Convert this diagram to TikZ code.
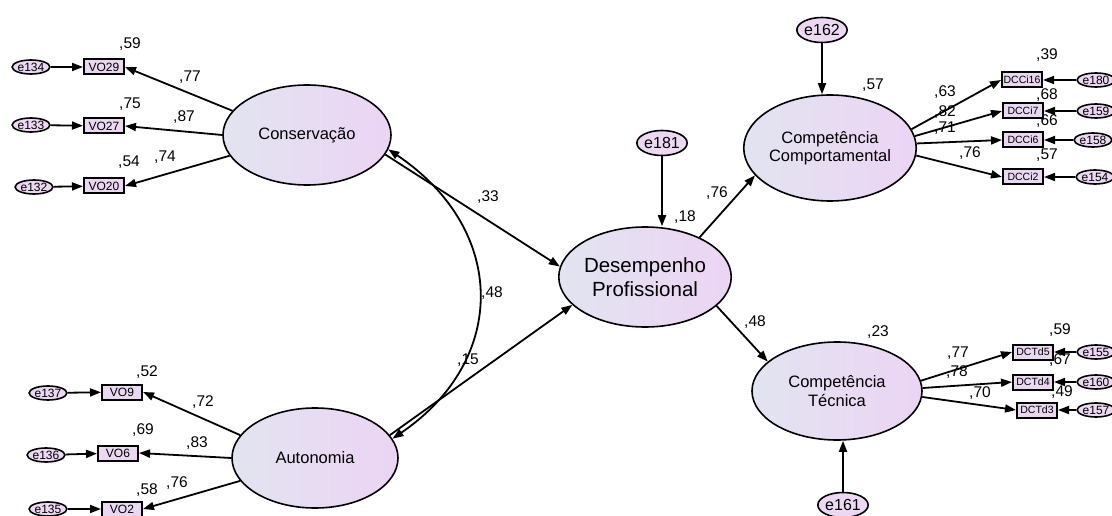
\documentclass[tikz,border=0pt]{standalone}
\usepackage{fontspec}
\setmainfont{Liberation Sans}
\usetikzlibrary{arrows.meta,shapes.geometric}
\definecolor{latL}{RGB}{226,228,240}
\definecolor{latR}{RGB}{236,212,244}
\definecolor{obsF}{RGB}{234,216,240}
\definecolor{errF}{RGB}{236,216,242}
\tikzset{
 lat/.style={ellipse, draw, line width=1.6pt, left color=latL, right color=latR, inner sep=0pt, align=center, font=\fontsize{16.5}{19}\selectfont},
 obs/.style={rectangle, draw, line width=2pt, fill=obsF, minimum width=40pt, minimum height=15pt, inner sep=0pt, font=\fontsize{12}{12}\selectfont},
 obsd/.style={obs, font=\fontsize{10.5}{10.5}\selectfont},
 errs/.style={ellipse, draw, line width=1.6pt, fill=errF, minimum width=37pt, minimum height=14pt, inner sep=0pt, font=\fontsize{12}{12}\selectfont},
 errb/.style={ellipse, draw, line width=1.6pt, fill=errF, minimum width=43pt, minimum height=25pt, inner sep=0pt, font=\fontsize{16}{16}\selectfont},
 arr/.style={-{Triangle[length=11pt,width=8pt]}, line width=1.8pt},
 darr/.style={{Triangle[length=11pt,width=8pt]}-{Triangle[length=11pt,width=8pt]}, line width=1.8pt},
 val/.style={inner sep=0pt, font=\fontsize{15.5}{15.5}\selectfont},
}
\begin{document}
\begin{tikzpicture}[x=1pt,y=-1pt]
\useasboundingbox[fill=white] (0,0) rectangle (1112,516);
% value labels (drawn first, boxes may cover them)
\node[val] (v1) at (130,44) {,59};
\node[val] (v2) at (190,77) {,77};
\node[val] (v3) at (130,104) {,75};
\node[val] (v4) at (184,117) {,87};
\node[val] (v5) at (129,162) {,54};
\node[val] (v6) at (165,157) {,74};
\node[val] (v7) at (147,372) {,52};
\node[val] (v8) at (203,402) {,72};
\node[val] (v9) at (143,430) {,69};
\node[val] (v10) at (197,443) {,83};
\node[val] (v11) at (147,490) {,58};
\node[val] (v12) at (177,483) {,76};
\node[val] (v13) at (488,197) {,33};
\node[val] (v14) at (492,293) {,48};
\node[val] (v15) at (468,360) {,15};
\node[val] (v16) at (685,217) {,18};
\node[val] (v17) at (717,193) {,76};
\node[val] (v18) at (873,85) {,57};
\node[val] (v19) at (755,322) {,48};
\node[val] (v20) at (878,332) {,23};
\node[val] (v21) at (1047,55) {,39};
\node[val] (v22) at (1047,95) {,68};
\node[val] (v23) at (1047,121) {,66};
\node[val] (v24) at (1047,155) {,57};
\node[val] (v25) at (945,92) {,63};
\node[val] (v26) at (945,112) {,82};
\node[val] (v27) at (945,128) {,71};
\node[val] (v28) at (970,153) {,76};
\node[val] (v29) at (1060,330) {,59};
\node[val] (v30) at (1060,360) {,67};
\node[val] (v31) at (1062,392) {,49};
\node[val] (v32) at (958,353) {,77};
\node[val] (v33) at (957,372) {,78};
\node[val] (v34) at (980,393) {,70};
% latent variables
\node[lat, minimum width=168pt, minimum height=100pt] (cons) at (307,135) {Conserva\c{c}\~ao};
\node[lat, minimum width=166pt, minimum height=100pt] (aut) at (315,458) {Autonomia};
\node[lat, minimum width=166pt, minimum height=100pt, font=\fontsize{20.5}{24}\selectfont] (des) at (645,277) {Desempenho\\Profissional};
\node[lat, minimum width=164pt, minimum height=106pt, font=\fontsize{16.5}{18.5}\selectfont] (cc) at (830,148) {Compet\^encia\\Comportamental};
\node[lat, minimum width=170pt, minimum height=98pt, font=\fontsize{16.5}{18.5}\selectfont] (ct) at (837,391) {Compet\^encia\\T\'ecnica};
% observed variables
\node[obs] (vo29) at (104,67) {VO29};
\node[obs] (vo27) at (104,126) {VO27};
\node[obs] (vo20) at (104,186) {VO20};
\node[obs] (vo9) at (122,392) {VO9};
\node[obs] (vo6) at (118,453) {VO6};
\node[obs] (vo2) at (122,509) {VO2};
\node[obsd] (dcci16) at (1022,80) {DCCi16};
\node[obsd] (dcci7) at (1023,111) {DCCi7};
\node[obsd] (dcci6) at (1023,140) {DCCi6};
\node[obsd] (dcci2) at (1023,177) {DCCi2};
\node[obsd] (dctd5) at (1033,352) {DCTd5};
\node[obsd] (dctd4) at (1033,382) {DCTd4};
\node[obsd] (dctd3) at (1037,410) {DCTd3};
% error terms
\node[errs] (e134) at (31,67) {e134};
\node[errs] (e133) at (31,125) {e133};
\node[errs] (e132) at (34,187) {e132};
\node[errs] (e137) at (48,393) {e137};
\node[errs] (e136) at (46,455) {e136};
\node[errs] (e135) at (48,509) {e135};
\node[errs] (e180) at (1096,80) {e180};
\node[errs] (e159) at (1096,111) {e159};
\node[errs] (e158) at (1093,140) {e158};
\node[errs] (e154) at (1095,177) {e154};
\node[errs] (e155) at (1096,352) {e155};
\node[errs] (e160) at (1096,382) {e160};
\node[errs] (e157) at (1096,410) {e157};
\node[errb] (e181) at (662,143) {e181};
\node[errb] (e162) at (822,30) {e162};
\node[errb] (e161) at (843,505) {e161};
% error arrows
\foreach \e/\o in {e134/vo29,e133/vo27,e132/vo20,e137/vo9,e136/vo6,e135/vo2,e180/dcci16,e159/dcci7,e158/dcci6,e154/dcci2,e155/dctd5,e160/dctd4,e157/dctd3}
  \draw[arr] (\e) -- (\o);
\draw[arr] (e181) -- (des.north -| e181);
\draw[arr] (e162) -- (cc.north -| e162);
\draw[arr] (e161) -- (ct.south -| e161);
% loadings
\draw[arr] (cons.162) -- (vo29.east);
\draw[arr] (cons.180) -- (vo27.east);
\draw[arr] (cons.195) -- (vo20.east);
\draw[arr] (aut.163) -- (vo9.east);
\draw[arr] (aut.180) -- (vo6.east);
\draw[arr] (aut.197) -- (vo2.east);
\draw[arr] (cc.13) -- (dcci16.west);
\draw[arr] (cc.8) -- (dcci7.west);
\draw[arr] (cc.3) -- (dcci6.west);
\draw[arr] (cc.-5) -- (dcci2.west);
\draw[arr] (ct.7) -- (dctd5.west);
\draw[arr] (ct.2) -- (dctd4.west);
\draw[arr] (ct.-4) -- (dctd3.west);
% structural paths
\draw[arr] (cons.-14) -- (des.173);
\draw[arr] (aut.17) -- (des.201);
\draw[arr] (des.36) -- (cc.200);
\draw[arr] (des.-22) -- (ct.157);
\draw[darr] (cons.-10) .. controls (508,230) and (508,360) .. (aut.14);
\end{tikzpicture}
\end{document}
